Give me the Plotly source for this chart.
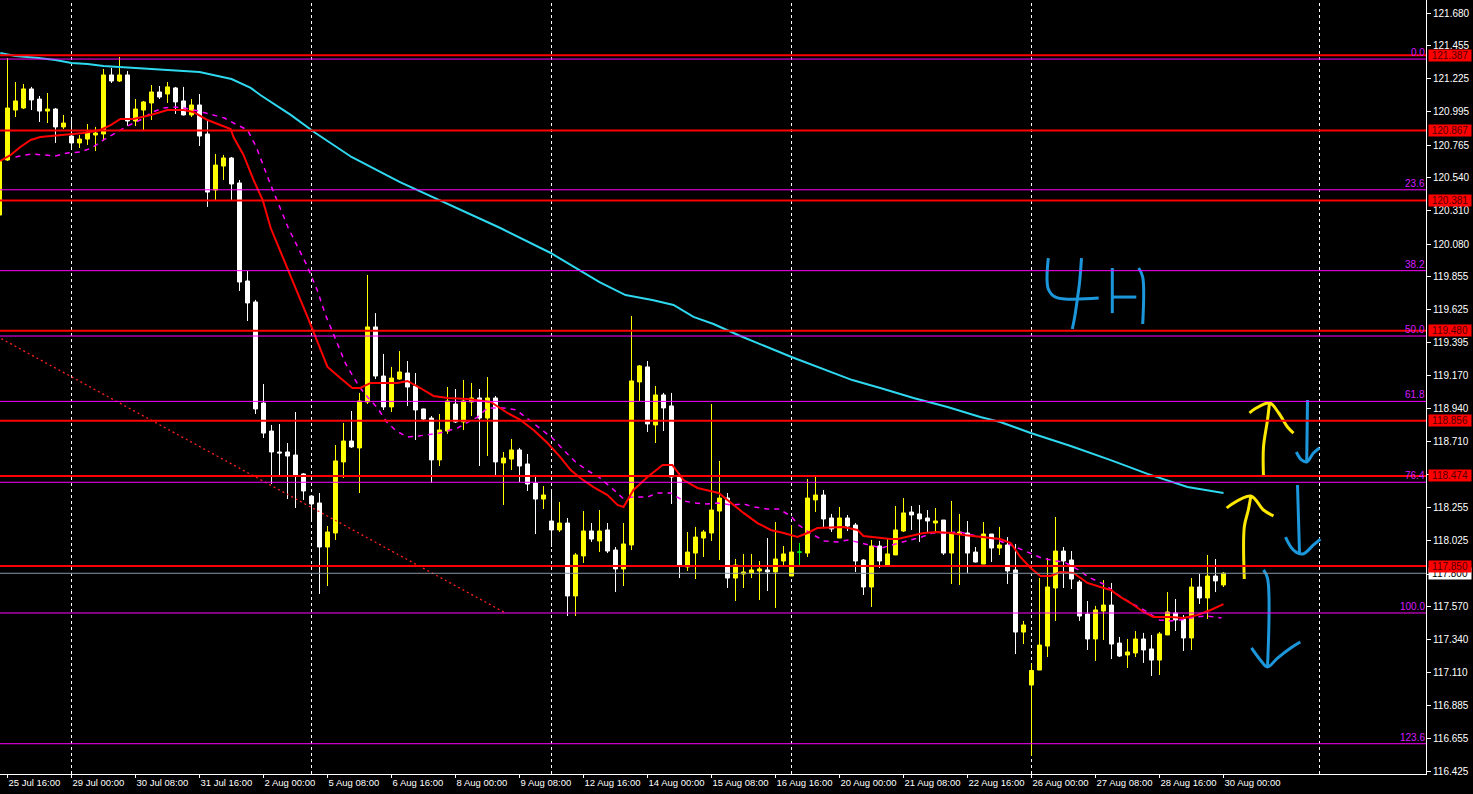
import plotly.graph_objects as go

# 4H bars, index 0 = 29 Jul 00:00
bars = list(range(-9, 145))
opens = [120.281, 120.662, 121.008, 121.022, 121.154, 121.084, 121.001, 121.015, 120.891,
         120.828, 120.780, 120.807, 120.835, 120.842, 121.251, 121.209, 121.251, 120.932, 121.008,
         121.057, 121.133, 121.119, 121.161, 121.071, 120.974, 121.043, 120.842, 120.454, 120.620,
         120.676, 120.503, 119.824, 119.679, 118.979, 118.785, 118.640, 118.640, 118.619, 118.488,
         118.335, 118.287, 117.982, 118.079, 118.571, 118.716, 118.668, 118.986, 119.506, 119.166,
         118.952, 119.145, 119.187, 119.097, 118.938, 118.875, 118.585, 118.785, 118.972, 118.848,
         118.986, 119.014, 118.875, 119.014, 118.564, 118.591, 118.654, 118.557, 118.425, 118.314,
         118.162, 118.100, 118.148, 117.643, 117.920, 118.093, 118.024, 118.100, 117.961, 117.830,
         117.996, 119.125, 119.229, 118.827, 119.035, 118.959, 118.474, 117.844, 117.940, 118.044,
         118.079, 118.231, 118.321, 117.767, 117.795, 117.802, 117.816, 117.823, 117.809, 117.885,
         117.781, 117.947, 117.940, 118.308, 118.342, 118.183, 118.044, 118.183, 118.134, 117.892,
         117.705, 117.989, 117.857, 117.927, 118.093, 118.224, 118.211, 118.183, 118.148, 118.169,
         117.940, 118.072, 118.079, 117.947, 117.864, 118.072, 117.975, 117.996, 117.823, 117.393,
         117.026, 117.130, 117.296, 117.698, 117.954, 117.892, 117.740, 117.518, 117.345, 117.539,
         117.580, 117.317, 117.234, 117.248, 117.345, 117.276, 117.199, 117.373, 117.525, 117.483,
         117.352, 117.705, 117.629, 117.781, 117.719]
highs = [120.660, 121.368, 121.202, 121.188, 121.168, 121.105, 121.126, 121.022, 120.974,
         120.960, 120.835, 120.911, 120.891, 121.292, 121.299, 121.375, 121.278, 121.084, 121.071,
         121.181, 121.174, 121.202, 121.168, 121.168, 121.084, 121.119, 120.939, 120.704, 120.697,
         120.683, 120.524, 119.893, 119.693, 119.111, 118.827, 118.834, 118.702, 118.917, 118.494,
         118.340, 118.356, 118.127, 118.688, 118.841, 118.924, 119.049, 119.866, 119.602, 119.319,
         119.229, 119.339, 119.270, 119.187, 118.940, 118.889, 118.903, 119.090, 119.076, 119.139,
         119.118, 119.076, 119.159, 119.028, 118.640, 118.730, 118.668, 118.626, 118.481, 118.404,
         118.384, 118.294, 118.183, 117.940, 118.231, 118.148, 118.238, 118.148, 117.982, 118.148,
         119.582, 119.242, 119.270, 119.097, 119.049, 119.049, 118.494, 118.086, 118.121, 118.100,
         118.972, 118.578, 118.356, 117.899, 117.934, 117.934, 117.885, 118.044, 118.155, 117.989,
         118.134, 118.010, 118.453, 118.467, 118.377, 118.211, 118.259, 118.204, 118.148, 117.899,
         118.031, 118.024, 118.037, 118.266, 118.321, 118.266, 118.273, 118.238, 118.252, 118.169,
         118.301, 118.211, 118.162, 117.982, 118.155, 118.072, 118.121, 118.051, 118.003, 117.470,
         117.176, 117.767, 117.906, 118.190, 117.982, 117.954, 117.753, 117.608, 117.574, 117.753,
         117.733, 117.359, 117.345, 117.400, 117.387, 117.373, 117.393, 117.670, 117.622, 117.511,
         117.767, 117.795, 117.927, 117.899, 117.809]
lows = [120.250, 120.655, 120.960, 121.015, 121.008, 120.925, 120.918, 120.780, 120.877,
        120.731, 120.745, 120.766, 120.724, 120.794, 121.195, 121.202, 120.897, 120.897, 120.870,
        120.939, 121.084, 121.057, 120.981, 120.970, 120.960, 120.759, 120.337, 120.378, 120.524,
        120.385, 119.755, 119.547, 118.903, 118.737, 118.418, 118.467, 118.314, 118.252, 118.308,
        118.155, 117.657, 117.712, 118.031, 118.460, 118.668, 118.356, 118.972, 119.145, 118.931,
        118.917, 119.140, 118.958, 118.723, 118.862, 118.425, 118.543, 118.765, 118.841, 118.792,
        118.889, 118.543, 118.612, 118.481, 118.273, 118.515, 118.432, 118.370, 118.072, 118.245,
        117.982, 118.086, 117.504, 117.504, 117.871, 118.017, 117.947, 117.940, 117.670, 117.712,
        117.961, 118.993, 118.778, 118.702, 118.785, 118.280, 117.767, 117.816, 117.760, 117.913,
        118.024, 117.892, 117.698, 117.608, 117.698, 117.767, 117.615, 117.677, 117.560, 117.857,
        117.781, 117.850, 117.913, 118.224, 118.121, 118.086, 118.044, 118.093, 117.809, 117.650,
        117.567, 117.837, 117.857, 117.927, 118.086, 118.100, 118.017, 118.079, 118.079, 117.927,
        117.726, 117.719, 117.802, 117.875, 117.864, 117.878, 117.927, 117.726, 117.241, 117.310,
        116.535, 117.130, 117.220, 117.470, 117.698, 117.691, 117.470, 117.269, 117.193, 117.338,
        117.206, 117.220, 117.144, 117.220, 117.179, 117.089, 117.096, 117.373, 117.400, 117.262,
        117.269, 117.587, 117.483, 117.670, 117.705]
closes = [120.655, 121.022, 121.071, 121.154, 121.078, 121.001, 121.015, 120.891, 120.918,
          120.780, 120.807, 120.849, 120.849, 121.251, 121.209, 121.251, 120.932, 121.015, 121.064,
          121.133, 121.098, 121.168, 121.064, 120.974, 121.043, 120.828, 120.440, 120.627, 120.676,
          120.496, 119.817, 119.672, 118.938, 118.771, 118.640, 118.633, 118.612, 118.481, 118.370,
          118.280, 117.982, 118.086, 118.578, 118.716, 118.675, 118.993, 119.506, 119.166, 118.952,
          119.152, 119.194, 119.090, 118.931, 118.868, 118.585, 118.792, 118.993, 118.848, 118.993,
          119.014, 118.875, 119.014, 118.571, 118.598, 118.654, 118.543, 118.418, 118.314, 118.342,
          118.100, 118.148, 117.643, 117.927, 118.093, 118.037, 118.093, 117.954, 117.830, 118.003,
          119.132, 119.236, 118.834, 119.035, 118.945, 118.467, 117.850, 117.947, 118.051, 118.086,
          118.238, 118.321, 117.767, 117.857, 117.809, 117.823, 117.830, 117.809, 117.899, 117.934,
          117.947, 117.947, 118.321, 118.342, 118.176, 118.107, 118.183, 118.127, 117.885, 117.705,
          117.989, 117.885, 117.934, 118.100, 118.218, 118.204, 118.176, 118.162, 118.162, 117.940,
          118.079, 118.086, 117.940, 117.878, 118.072, 117.975, 117.996, 117.816, 117.393, 117.442,
          117.127, 117.303, 117.705, 117.954, 117.885, 117.760, 117.504, 117.345, 117.546, 117.580,
          117.310, 117.227, 117.255, 117.345, 117.269, 117.199, 117.380, 117.532, 117.477, 117.352,
          117.705, 117.629, 117.781, 117.747, 117.800]

# moving averages (bar position, price)
ma_fast_x = [-8.9, -7.6, -6.4, -5.1, -3.9, -2.6, -0.5, 1.5, 3.6, 4.9, 6.1, 7.75, 9.9, 12, 14, 15.25,
             17, 18.25, 19.9, 20.25, 21.5, 22.75, 23.9, 24.9, 26.5, 27.75, 29.5, 31.1, 32, 33.6,
             35.1, 36.1, 37.4, 40.75, 42, 43.6, 45.25, 47, 49.5, 52.4, 54.5, 56.1, 57.75, 59.5,
             61.1, 62.4, 63.6, 65.25, 67, 68.25, 69, 70.25, 72, 73.9, 75.1, 76.5, 78.25, 80.9,
             82.4, 84, 85.75, 87.4, 89, 90.75, 92, 93.25, 96.5, 98.25, 99, 102.4, 103.25, 104.9,
             106.5, 108.25, 109.9, 111.5, 114, 116.1, 117.4, 118.6, 119.9, 121.1, 122.4, 123.6,
             125.25, 127, 128.6, 129.9, 131.1, 132.4, 134, 135.25, 137.4, 139, 140.75, 142.4, 144]
ma_fast_y = [120.655, 120.697, 120.752, 120.801, 120.821, 120.828, 120.842, 120.849, 120.870, 120.904,
             120.946, 120.946, 120.974, 121.008, 121.008, 120.994, 120.939, 120.911, 120.877, 120.821,
             120.697, 120.524, 120.385, 120.191, 119.970, 119.810, 119.575, 119.360, 119.229, 119.152,
             119.083, 119.083, 119.118, 119.118, 119.132, 119.083, 119.028, 119.014, 119.007, 118.986,
             118.910, 118.862, 118.792, 118.702, 118.605, 118.515, 118.460, 118.397, 118.342, 118.273,
             118.259, 118.377, 118.467, 118.550, 118.550, 118.446, 118.391, 118.356, 118.287, 118.218,
             118.148, 118.100, 118.079, 118.051, 118.079, 118.113, 118.121, 118.100, 118.058, 118.037,
             118.037, 118.058, 118.079, 118.086, 118.079, 118.065, 118.051, 118.037, 118.010, 117.913,
             117.837, 117.781, 117.781, 117.809, 117.802, 117.733, 117.705, 117.684, 117.636, 117.594,
             117.532, 117.497, 117.497, 117.490, 117.511, 117.546, 117.587]

ma_mid_x = [-7, -5, -3.5, -2, -0.5, 1.1, 2.5, 4, 5.5, 7, 8.6, 10.1, 11.5, 13, 14.9, 17.5, 19.1, 20.5,
            22, 23.1, 24.9, 27.1, 29.4, 30.75, 31.75, 33, 34.25, 35.1, 36, 37, 38.25, 39.4, 40.6,
            42, 43.4, 46, 48.25, 49.6, 50.75, 52, 54, 55.6, 58.6, 60.1, 61.5, 63, 64.4, 65.9, 67.4,
            68.9, 70.25, 72, 73.25, 74.9, 76.5, 77.9, 79.4, 80.75, 82.6, 84, 85.4, 86.9, 88.4,
            89.9, 90.9, 92.1, 94.1, 95.75, 97.1, 98.6, 99.75, 101.25, 103, 104.6, 106.25, 107.6,
            109.1, 111, 112.6, 114.1, 115.4, 117.4, 119.6, 121.25, 123, 124.1, 125.9, 127.1,
            129.25, 130.5, 131.6, 133, 134.25, 136, 137.4, 138.6, 140.5, 142, 143.75]
ma_mid_y = [120.683, 120.704, 120.697, 120.690, 120.711, 120.717, 120.745, 120.801, 120.849, 120.897,
            120.939, 120.994, 121.022, 121.029, 121.015, 120.974, 120.953, 120.911, 120.870, 120.752,
            120.489, 120.191, 119.935, 119.755, 119.589, 119.422, 119.253, 119.173, 119.090, 119.021,
            118.945, 118.848, 118.785, 118.744, 118.751, 118.771, 118.806, 118.848, 118.882, 118.945,
            118.945, 118.931, 118.806, 118.737, 118.654, 118.571, 118.515, 118.467, 118.397, 118.321,
            118.328, 118.328, 118.356, 118.356, 118.301, 118.287, 118.280, 118.287, 118.273, 118.280,
            118.259, 118.245, 118.245, 118.197, 118.134, 118.086, 118.024, 118.017, 118.031, 118.010,
            117.996, 117.975, 118.003, 118.024, 118.051, 118.079, 118.079, 118.086, 118.065, 118.051,
            118.037, 117.996, 117.947, 117.906, 117.885, 117.878, 117.823, 117.774, 117.719, 117.663,
            117.622, 117.580, 117.539, 117.477, 117.470, 117.477, 117.497, 117.504, 117.490]

ma_slow_x = [-8.9, -7, -4.1, -2, 0, 2, 4, 7.75, 12, 16, 20, 22.4, 23.6, 27.4, 30.5, 35, 41, 47.4,
             53.6, 59.9, 66, 69.25, 72.6, 75.25, 77.75, 80.25, 83.6, 90, 93.6, 97.6, 101.1, 105.25,
             109.5, 113.6, 116.1, 119.9, 124.9, 129.9, 134.5, 139.5, 144]
ma_slow_y = [121.403, 121.382, 121.368, 121.354, 121.334, 121.327, 121.313, 121.299, 121.285, 121.271,
             121.223, 121.161, 121.112, 120.974, 120.849, 120.683, 120.510, 120.350, 120.191, 120.018,
             119.817, 119.727, 119.692, 119.658, 119.575, 119.526, 119.443, 119.298, 119.222, 119.138,
             119.083, 119.014, 118.952, 118.882, 118.848, 118.771, 118.681, 118.584, 118.488, 118.398,
             118.356]

tick_bars = list(range(-8, 145, 8))
tick_labels = ["25 Jul 16:00", "29 Jul 00:00", "30 Jul 08:00", "31 Jul 16:00", "2 Aug 00:00",
               "5 Aug 08:00", "6 Aug 16:00", "8 Aug 00:00", "9 Aug 08:00", "12 Aug 16:00",
               "14 Aug 00:00", "15 Aug 08:00", "16 Aug 16:00", "20 Aug 00:00", "21 Aug 08:00",
               "22 Aug 16:00", "26 Aug 00:00", "27 Aug 08:00", "28 Aug 16:00", "30 Aug 00:00"]
week_starts = [0, 30, 60, 90, 120, 156]
price_ticks = [121.680, 121.455, 121.225, 120.995, 120.765, 120.540, 120.310, 120.080, 119.855,
               119.625, 119.395, 119.170, 118.940, 118.710, 118.485, 118.255, 118.025, 117.795,
               117.570, 117.340, 117.110, 116.885, 116.655, 116.425]

red_levels = [121.387, 120.867, 120.381, 119.480, 118.856, 118.474, 117.850]
fib_levels = [0.0, 23.6, 38.2, 50.0, 61.8, 76.4, 100.0, 123.6]
fib_high, fib_low = 121.361, 117.525
fib_bars = [-73, 54.25]
bid = closes[-1]

# hand drawn marks: (bars, prices, colour)
BLUE = "#1C97DB"
PEN_YELLOW = "#FFE800"
strokes = [
    ([122.1, 122.1, 123.0, 128.4], [119.983, 119.769, 119.713, 119.706], BLUE),
    ([126.25, 126.0, 125.75, 125.4, 125.1], [119.983, 119.810, 119.706, 119.575, 119.492], BLUE),
    ([130.1, 130.1], [119.914, 119.602], BLUE),
    ([130.1, 133.1], [119.713, 119.713], BLUE),
    ([133.4, 133.9, 133.9], [119.914, 119.852, 119.526], BLUE),
    ([149.0, 149.0, 149.5, 149.75], [118.467, 118.675, 118.862, 118.979], PEN_YELLOW),
    ([147.25, 147.9, 149.75, 150.9, 152.0, 152.75], [118.910, 118.938, 118.979, 118.910, 118.813, 118.771], PEN_YELLOW),
    ([146.6, 146.6, 147.1, 147.4], [117.760, 118.121, 118.238, 118.328], PEN_YELLOW),
    ([144.4, 144.9, 147.4, 149.0, 150.25], [118.252, 118.273, 118.335, 118.238, 118.197], PEN_YELLOW),
    ([154.5, 154.4], [119.000, 118.571], BLUE),
    ([153.1, 153.75, 154.4, 155.25, 156.0], [118.640, 118.585, 118.571, 118.633, 118.668], BLUE),
    ([153.25, 153.5], [118.411, 117.940], BLUE),
    ([151.75, 152.75, 153.9, 155.25, 156.1], [118.051, 117.961, 117.934, 117.996, 118.037], BLUE),
    ([149.0, 149.5, 149.5], [117.823, 117.767, 117.151], BLUE),
    ([147.5, 148.6, 149.5, 150.75, 152.4, 153.6], [117.283, 117.200, 117.151, 117.213, 117.283, 117.324], BLUE),
]

FONT = "Liberation Sans, Arial, sans-serif"

body = [k for k in range(len(bars)) if opens[k] != closes[k]]
doji = [k for k in range(len(bars)) if opens[k] == closes[k]]

fig = go.Figure()
fig.add_trace(go.Candlestick(
    x=[bars[k] for k in body], open=[opens[k] for k in body], high=[highs[k] for k in body],
    low=[lows[k] for k in body], close=[closes[k] for k in body],
    increasing=dict(line=dict(color="#FFFF00", width=1), fillcolor="#FFFF00"),
    decreasing=dict(line=dict(color="#FFFFFF", width=1), fillcolor="#FFFFFF"),
    hoverinfo="skip",
))
fig.add_trace(go.Candlestick(
    x=[bars[k] for k in doji], open=[opens[k] for k in doji], high=[highs[k] for k in doji],
    low=[lows[k] for k in doji], close=[closes[k] for k in doji],
    increasing=dict(line=dict(color="#00FF00", width=1), fillcolor="#00FF00"),
    decreasing=dict(line=dict(color="#00FF00", width=1), fillcolor="#00FF00"),
    hoverinfo="skip",
))

fig.add_trace(go.Scatter(x=ma_slow_x, y=ma_slow_y, mode="lines",
                         line=dict(color="#2ED9F0", width=2), hoverinfo="skip"))
fig.add_trace(go.Scatter(x=ma_mid_x, y=ma_mid_y, mode="lines",
                         line=dict(color="#FF00FF", width=1.5, dash="5px,5px"), hoverinfo="skip"))
fig.add_trace(go.Scatter(x=ma_fast_x, y=ma_fast_y, mode="lines",
                         line=dict(color="#FF0000", width=2), hoverinfo="skip"))

# fibo base line
fig.add_trace(go.Scatter(x=fib_bars, y=[fib_high, fib_low], mode="lines",
                         line=dict(color="#FF2020", width=1.3, dash="2px,3px"), hoverinfo="skip"))

for xs, ys, col in strokes:
    fig.add_trace(go.Scatter(x=xs, y=ys, mode="lines", line=dict(color=col, width=3, shape="spline"),
                             hoverinfo="skip"))

# week separators
for wb in week_starts:
    fig.add_shape(type="line", xref="x", yref="paper", x0=wb, x1=wb, y0=0, y1=1,
                  line=dict(color="#FFFFFF", width=1, dash="3px,3px"), layer="below")

# fibonacci levels
for lv in fib_levels:
    price = fib_high - (fib_high - fib_low) * lv / 100
    fig.add_shape(type="line", xref="paper", yref="y", x0=0, x1=1, y0=price, y1=price,
                  line=dict(color="#FF00FF", width=1))
    fig.add_annotation(xref="paper", yref="y", x=1, y=price, text=f"{lv:.1f}", showarrow=False,
                       xanchor="right", yanchor="bottom", borderpad=0,
                       font=dict(family=FONT, size=10, color="#D81CFF"))

# bid line
fig.add_shape(type="line", xref="paper", yref="y", x0=0, x1=1, y0=bid, y1=bid,
              line=dict(color="#8A96A3", width=1))
fig.add_annotation(xref="paper", yref="y", x=1, y=bid, text=f"{bid:.3f}", showarrow=False,
                   xanchor="left", yanchor="middle", xshift=2, width=42, height=11, borderpad=0,
                   bgcolor="#FFFFFF", font=dict(family=FONT, size=10, color="#000000"))

# horizontal support / resistance
for lv in red_levels:
    fig.add_shape(type="line", xref="paper", yref="y", x0=0, x1=1, y0=lv, y1=lv,
                  line=dict(color="#FF0000", width=2))
    fig.add_annotation(xref="paper", yref="y", x=1, y=lv, text=f"{lv:.3f}", showarrow=False,
                       xanchor="left", yanchor="middle", xshift=2, width=42, height=11, borderpad=0,
                       bgcolor="#FF0000", font=dict(family=FONT, size=10, color="#500000"))

# half-pixel shift keeps 1px wicks crisp (8 px per bar)
x_left = -8.875 - 0.0625
fig.update_layout(
    width=1473, height=794,
    margin=dict(l=0, r=47, t=0, b=20, autoexpand=False),
    paper_bgcolor="#000000", plot_bgcolor="#000000",
    showlegend=False, hovermode=False,
    boxgap=0.5, boxgroupgap=0,
    xaxis=dict(range=[x_left, x_left + 178.25], rangeslider=dict(visible=False),
               tickmode="array", tickvals=tick_bars, ticktext=tick_labels, tickangle=0,
               ticklabelposition="outside right", ticks="outside", ticklen=3, tickcolor="#FFFFFF",
               showline=True, linecolor="#FFFFFF", linewidth=1, showgrid=False, zeroline=False,
               automargin=False, tickfont=dict(family=FONT, size=9.5, color="#FFFFFF")),
    yaxis=dict(range=[116.410, 121.770], side="right", tickmode="array", tickvals=price_ticks,
               ticktext=[f"{v:.3f}" for v in price_ticks], ticks="outside", ticklen=4,
               tickcolor="#FFFFFF", showline=True, linecolor="#FFFFFF", linewidth=1,
               showgrid=False, zeroline=False, automargin=False,
               tickfont=dict(family=FONT, size=10, color="#FFFFFF")),
)

fig.write_html("out.html", config={"displayModeBar": False},
               post_script="document.body.style.margin='0';document.body.style.background='#000';")
